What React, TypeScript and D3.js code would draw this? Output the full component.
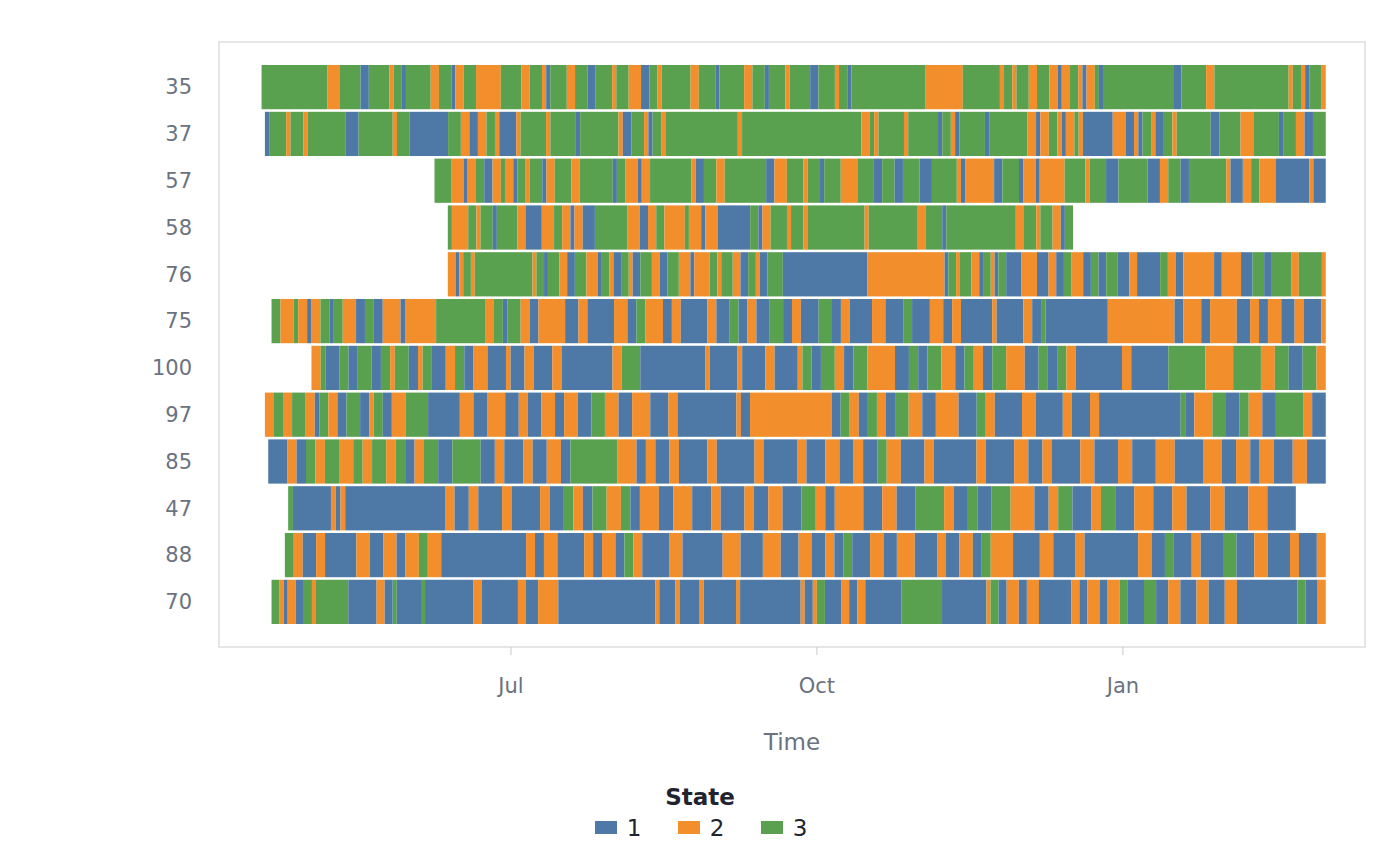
import * as d3 from 'd3';

// Each row: state per run, with run length in days
const rowLabels = ['35', '37', '57', '58', '76', '75', '100', '97', '85', '47', '88', '70'];
const rowStart = [-75, -74, -23, -19, -19, -72, -60, -74, -73, -67, -68, -72];
const rowEnd = [245, 245, 245, 169, 245, 245, 245, 245, 245, 236, 245, 245];

const row35: [number, number][] = [[3,16],[2,3],[3,5],[1,2],[3,5],[2,1],[3,2],[1,1],[3,6],[2,2],[3,3],[1,1],[2,2],[3,3],[2,6],[3,5],[2,2],[3,3],[2,1],[1,1],[3,4],[2,2],[3,3],[1,2],[3,4],[2,1],[3,3],[2,3],[1,2],[3,2],[2,1],[3,7],[2,2],[3,4],[1,1],[3,6],[2,2],[3,3],[1,1],[3,4],[2,1],[3,5],[1,2],[3,4],[2,1],[3,2],[1,1],[3,18],[2,9],[3,9],[2,1],[3,2],[2,1],[3,3],[2,2],[3,3],[2,2],[1,1],[2,2],[3,2],[2,1],[1,1],[2,2],[3,1],[1,1],[3,17],[1,2],[3,6],[2,2],[3,18],[2,1],[3,2],[2,1],[1,1],[3,3],[2,1]];
const row37: [number, number][] = [[1,1],[3,4],[2,1],[3,3],[2,1],[3,9],[1,3],[3,8],[2,1],[3,3],[1,9],[3,3],[2,2],[1,2],[2,2],[3,2],[2,1],[1,4],[2,1],[3,6],[2,1],[3,6],[1,1],[3,9],[2,1],[1,2],[3,3],[2,1],[1,1],[3,2],[2,1],[3,17],[2,1],[3,28],[2,2],[3,1],[2,1],[3,6],[2,1],[3,7],[1,1],[3,2],[2,1],[1,1],[3,6],[1,1],[3,9],[2,2],[1,1],[2,2],[3,2],[2,1],[1,1],[2,2],[3,1],[2,1],[1,7],[2,3],[1,2],[2,1],[1,1],[3,2],[2,1],[1,2],[3,2],[2,1],[3,8],[1,2],[3,5],[2,3],[3,6],[1,1],[3,3],[2,2],[1,2],[3,3]];
const row57: [number, number][] = [[3,4],[2,3],[1,1],[2,2],[3,2],[1,2],[2,2],[3,1],[2,2],[1,1],[3,2],[2,1],[3,3],[1,1],[2,2],[3,4],[2,2],[3,8],[1,1],[3,2],[2,3],[1,1],[2,2],[3,10],[2,1],[1,2],[3,3],[2,2],[3,10],[1,2],[2,3],[3,4],[2,1],[3,3],[1,1],[3,4],[2,4],[3,4],[1,2],[3,3],[1,2],[3,4],[1,3],[3,6],[2,1],[1,1],[2,7],[1,2],[3,4],[1,1],[2,3],[1,1],[2,6],[3,5],[2,1],[3,4],[1,3],[3,7],[1,3],[2,2],[3,3],[1,2],[3,9],[2,1],[1,3],[2,2],[3,2],[2,4],[1,8],[2,1],[1,3]];
const row58: [number, number][] = [[3,1],[2,4],[3,2],[2,1],[3,3],[1,1],[3,5],[2,2],[1,4],[2,3],[3,2],[2,2],[1,1],[2,2],[1,3],[3,8],[2,3],[1,2],[2,2],[3,2],[2,5],[3,1],[2,3],[1,1],[2,3],[1,8],[3,2],[1,1],[2,2],[3,4],[2,1],[3,3],[2,1],[3,14],[2,1],[3,12],[2,2],[3,4],[1,1],[3,17],[2,2],[3,3],[2,1],[3,3],[2,2],[1,1],[3,2]];
const row76: [number, number][] = [[2,2],[1,1],[2,1],[3,2],[2,1],[3,15],[2,1],[3,2],[1,1],[3,3],[2,2],[1,2],[3,3],[2,3],[1,1],[3,2],[2,1],[1,2],[3,2],[2,1],[1,2],[3,3],[2,2],[1,2],[3,3],[2,3],[1,1],[2,4],[3,2],[2,1],[3,3],[2,2],[1,2],[3,2],[2,1],[1,2],[3,4],[1,22],[2,20],[1,1],[3,2],[2,1],[3,3],[2,2],[1,1],[3,2],[2,1],[1,1],[3,2],[1,4],[2,4],[1,3],[2,2],[1,2],[3,2],[2,3],[1,2],[3,2],[1,2],[3,3],[1,3],[2,2],[1,6],[3,2],[2,2],[1,2],[2,8],[1,2],[2,5],[1,3],[3,3],[1,2],[3,5],[2,2],[3,6],[2,1]];
const row75: [number, number][] = [[3,2],[2,3],[3,1],[2,2],[1,1],[2,2],[3,2],[1,1],[3,2],[2,3],[1,2],[3,2],[1,2],[2,4],[1,1],[2,7],[3,11],[2,2],[3,2],[1,1],[3,3],[2,2],[1,2],[2,6],[1,3],[2,2],[1,6],[2,3],[1,2],[3,2],[2,4],[1,2],[2,2],[1,6],[2,2],[1,3],[3,2],[1,2],[2,2],[1,3],[3,3],[1,2],[2,2],[1,4],[3,3],[1,2],[2,2],[1,5],[2,3],[1,4],[3,2],[1,4],[2,3],[1,2],[2,2],[1,7],[2,1],[1,6],[2,2],[1,2],[3,1],[1,14],[2,15],[1,2],[2,4],[1,2],[2,6],[1,3],[2,2],[1,2],[2,3],[1,3],[2,2],[1,4],[2,1]];
const row100: [number, number][] = [[2,2],[3,1],[1,3],[3,2],[1,2],[3,3],[1,2],[3,2],[2,1],[3,3],[1,2],[2,1],[3,2],[1,3],[2,2],[3,2],[1,2],[2,3],[1,4],[2,1],[1,3],[2,2],[1,4],[2,2],[1,11],[2,2],[3,4],[1,14],[2,1],[1,6],[2,1],[1,5],[2,2],[1,5],[2,1],[3,2],[1,2],[3,3],[2,2],[1,2],[3,3],[2,6],[1,3],[3,2],[1,2],[3,3],[2,3],[1,2],[3,2],[2,2],[1,2],[3,3],[2,4],[1,3],[3,2],[1,2],[3,2],[2,2],[1,10],[2,2],[1,8],[3,8],[2,6],[3,6],[2,3],[3,3],[1,3],[3,3],[2,2]];
const row97: [number, number][] = [[2,2],[3,2],[2,2],[3,3],[2,2],[1,1],[3,2],[2,2],[1,2],[3,3],[1,2],[2,1],[3,2],[1,2],[2,3],[3,5],[1,7],[2,3],[1,3],[2,4],[1,3],[2,2],[1,3],[2,3],[1,2],[2,3],[1,3],[3,3],[2,3],[1,3],[2,4],[1,4],[2,2],[1,13],[2,1],[1,2],[2,18],[1,2],[3,2],[2,2],[1,2],[3,2],[2,2],[1,2],[3,3],[2,3],[1,3],[2,5],[1,4],[3,2],[2,2],[1,6],[2,3],[1,6],[2,2],[1,4],[2,2],[1,18],[3,1],[1,2],[2,4],[3,3],[1,3],[3,2],[2,3],[1,3],[3,6],[2,2],[1,3]];
const row85: [number, number][] = [[1,4],[2,2],[1,2],[3,2],[2,2],[3,3],[2,3],[3,2],[2,2],[3,3],[2,2],[3,2],[1,2],[2,2],[3,3],[1,3],[3,6],[1,3],[2,2],[1,4],[2,2],[1,3],[2,3],[1,2],[3,10],[2,4],[1,2],[2,2],[1,3],[2,2],[1,6],[2,2],[1,8],[2,2],[1,7],[2,2],[1,4],[2,3],[1,3],[2,2],[1,3],[3,2],[2,3],[1,5],[2,2],[1,9],[2,2],[1,6],[2,3],[1,3],[2,2],[1,6],[2,3],[1,5],[2,3],[1,5],[2,4],[1,6],[2,4],[1,3],[2,3],[1,2],[2,3],[1,4],[2,3],[1,4]];
const row47: [number, number][] = [[3,1],[1,8],[2,1],[1,1],[2,1],[1,21],[2,2],[1,3],[2,2],[1,5],[2,2],[1,6],[2,2],[1,3],[3,2],[2,2],[1,2],[3,3],[2,3],[3,2],[1,2],[2,4],[1,3],[2,4],[1,4],[2,2],[1,5],[2,2],[1,3],[2,3],[1,4],[3,3],[2,2],[1,2],[2,6],[1,4],[2,3],[1,4],[3,6],[2,2],[1,3],[3,2],[1,3],[3,4],[2,5],[1,3],[2,2],[3,3],[1,4],[2,2],[3,3],[1,4],[2,4],[1,4],[2,3],[1,5],[2,3],[1,5],[2,4],[1,6]];
const row88: [number, number][] = [[3,2],[2,2],[1,3],[2,2],[1,7],[2,3],[1,3],[2,3],[1,2],[2,3],[3,2],[2,3],[1,19],[2,2],[1,2],[2,3],[1,6],[2,2],[1,2],[2,3],[1,2],[3,2],[2,2],[1,6],[2,3],[1,9],[2,4],[1,5],[2,4],[1,4],[2,3],[1,3],[2,2],[1,2],[3,2],[1,4],[2,3],[1,3],[2,4],[1,5],[2,2],[1,3],[2,3],[1,2],[3,2],[2,5],[1,6],[2,3],[1,5],[2,2],[1,12],[2,3],[1,3],[3,2],[1,4],[2,2],[1,5],[3,3],[1,4],[2,3],[1,5],[2,2],[1,4],[2,2]];
const row70: [number, number][] = [[3,2],[2,1],[1,1],[2,2],[1,2],[3,2],[2,1],[3,8],[1,7],[2,2],[1,2],[3,1],[1,6],[3,1],[1,12],[2,2],[1,9],[2,2],[1,3],[2,5],[1,24],[2,1],[1,4],[2,1],[1,5],[2,1],[1,8],[2,1],[1,15],[2,1],[1,2],[2,1],[3,2],[1,4],[2,2],[1,2],[2,2],[1,9],[3,10],[1,11],[2,1],[3,2],[1,2],[2,3],[1,2],[2,3],[1,8],[2,2],[1,2],[2,3],[1,2],[2,3],[3,2],[1,4],[3,3],[1,3],[2,3],[1,4],[2,3],[1,4],[2,3],[1,15],[3,2],[1,3],[2,2]];

const rows = [row35, row37, row57, row58, row76, row75, row100, row97, row85, row47, row88, row70];
const stateLabels = ['1', '2', '3'];
const stateColors = ['#4e79a7', '#f28e2b', '#59a14f'];
const tickLabels = ['Jul', 'Oct', 'Jan'];

const base = new Date(2020, 6, 1);
const day = (n: number) => d3.timeDay.offset(base, Math.round(n * 24) / 24);

export default function App() {
  const W = 1400, H = 866;
  const panel = { left: 219, right: 1365, top: 42, bottom: 647 };
  const x = d3.scaleLinear().domain([-87.8, 256.8]).range([panel.left, panel.right]);
  const y = d3.scaleBand<string>().domain(rowLabels).range([panel.top + 23, panel.bottom - 23]).paddingInner(0.055);
  const ticks = [0, 92, 184];
  const grey = '#6b7280';
  const font = '"DejaVu Sans", sans-serif';

  const segs: { key: string; x0: number; x1: number; y: number; s: number }[] = [];
  rows.forEach((row, i) => {
    // spread the runs over the row's observed span
    const total = d3.sum(row, (r) => r[1]);
    const k = (rowEnd[i] - rowStart[i]) / total;
    let t = rowStart[i];
    row.forEach(([s, d], j) => {
      const t1 = t + d * k;
      segs.push({ key: `${i}-${j}`, x0: x(t), x1: x(t1), y: y(rowLabels[i])!, s });
      t = t1;
    });
  });

  return (
    <svg width={W} height={H} style={{ position: 'absolute', left: 0, top: 0, fontFamily: font }}>
      <rect width={W} height={H} fill="#fff" />
      <rect x={panel.left} y={panel.top} width={panel.right - panel.left} height={panel.bottom - panel.top} fill="none" stroke="#dedede" strokeWidth={1.5} />
      {segs.map((d) => (
        <rect key={d.key} x={d.x0} y={d.y} width={Math.max(0, d.x1 - d.x0)} height={y.bandwidth()} fill={stateColors[d.s - 1]} />
      ))}
      {rowLabels.map((l) => (
        <text key={l} x={192} y={y(l)! + y.bandwidth() / 2} dy="0.35em" textAnchor="end" fontSize={21} fill={grey}>{l}</text>
      ))}
      {ticks.map((t, i) => (
        <g key={i}>
          <line x1={x(t)} x2={x(t)} y1={panel.bottom} y2={panel.bottom + 8} stroke="#c8c8c8" />
          <text x={x(t)} y={693} textAnchor="middle" fontSize={21} fill={grey}>{tickLabels[i]}</text>
        </g>
      ))}
      <text x={792} y={750} textAnchor="middle" fontSize={23} fill={grey}>Time</text>
      <text x={700} y={805} textAnchor="middle" fontSize={23} fontWeight="bold" fill="#1f2430">State</text>
      {stateLabels.map((s, i) => (
        <g key={s} transform={`translate(${595 + i * 83},821)`}>
          <rect width={22} height={13} fill={stateColors[i]} />
          <text x={39} y={7} dy="0.35em" textAnchor="middle" fontSize={23} fill="#1f2430">{s}</text>
        </g>
      ))}
    </svg>
  );
}
